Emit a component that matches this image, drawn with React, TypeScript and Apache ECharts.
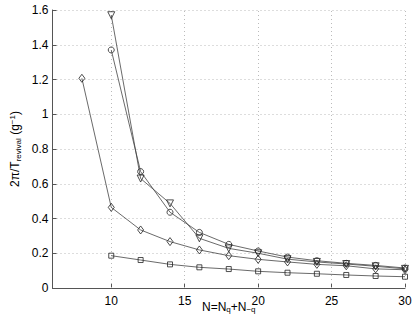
import React, { useEffect, useRef } from "react";
import * as echarts from "echarts";

const xDiamond = [8, 10, 12, 14, 16, 18, 20, 22, 24, 26, 28, 30];
const xOthers = [10, 12, 14, 16, 18, 20, 22, 24, 26, 28, 30];
const triangleVals = [1.57, 0.63, 0.487, 0.286, 0.228, 0.2, 0.166, 0.15, 0.138, 0.125, 0.11];
const circleVals = [1.37, 0.67, 0.436, 0.32, 0.251, 0.213, 0.178, 0.157, 0.142, 0.13, 0.115];
const diamondVals = [1.207, 0.464, 0.334, 0.267, 0.219, 0.186, 0.165, 0.15, 0.136, 0.128, 0.11, 0.105];
const squareVals = [0.186, 0.161, 0.136, 0.119, 0.109, 0.096, 0.088, 0.082, 0.075, 0.069, 0.065];
const xTicks = [10, 15, 20, 25, 30];

const FONT = "'Liberation Sans', Arial, Helvetica, sans-serif";

function pairs(xs: number[], ys: number[]) {
  return xs.map((x, i) => [x, ys[i]]);
}

export default function App() {
  const ref = useRef<HTMLDivElement>(null);
  useEffect(() => {
    if (!ref.current) return;
    const chart = echarts.init(ref.current, undefined, { renderer: "svg" });
    const lineStyle = { color: "#444", width: 0.8 };
    const itemStyle = { color: "rgba(255,255,255,0)", borderColor: "#222", borderWidth: 0.8 };
    const mk = (name: string, data: number[][], symbol: string, size: any, rotate = 0, extra: any = {}) => ({
      type: "line",
      name,
      data,
      symbol,
      symbolSize: size,
      symbolRotate: rotate,
      showAllSymbol: true,
      lineStyle,
      itemStyle,
      z: 3,
      ...extra,
    });
    const rich = {
      a: { fontSize: 12, fontFamily: FONT, color: "#000", lineHeight: 14, verticalAlign: "middle" },
      s: { fontSize: 8, fontFamily: FONT, color: "#000", lineHeight: 14, verticalAlign: "bottom" },
      p: { fontSize: 8, fontFamily: FONT, color: "#000", lineHeight: 14, verticalAlign: "top" },
    };
    chart.setOption({
      animation: false,
      grid: { left: 52.5, right: 10, top: 10, bottom: 33, outerBoundsMode: "none", containLabel: false },
      textStyle: { fontFamily: FONT },
      xAxis: {
        type: "value",
        min: 6,
        max: 30,
        axisLine: { show: true, lineStyle: { color: "#555", width: 1 } },
        axisTick: { show: true, inside: true, length: 4, customValues: xTicks, lineStyle: { color: "#555" } },
        axisLabel: { customValues: xTicks, color: "#000", fontSize: 12, fontFamily: FONT, margin: 7 },
        splitLine: { show: false },
        name: "{a|N=N}{s|q}{a|+N}{s|−q}",
        nameLocation: "middle",
        nameGap: 11.5,
        nameMoveOverlap: false,
        nameTextStyle: { rich },
      },
      yAxis: {
        type: "value",
        min: 0,
        max: 1.6,
        interval: 0.2,
        axisLine: { show: true, lineStyle: { color: "#555", width: 1 } },
        axisTick: { show: true, inside: true, length: 4, lineStyle: { color: "#555" } },
        axisLabel: { color: "#000", fontSize: 12, fontFamily: FONT, margin: 4 },
        splitLine: { show: true, lineStyle: { color: "#bbb", type: [1, 3], width: 1 } },
        name: "{a|2π/T}{s|revival}{a| (g}{p|−1}{a|)}",
        nameLocation: "middle",
        nameRotate: 90,
        nameGap: 30.5,
        nameMoveOverlap: false,
        nameTextStyle: { rich },
      },
      series: [
        mk("square", pairs(xOthers, squareVals), "rect", 5, 0, {
          markLine: {
            silent: true,
            symbol: ["none", "none"],
            label: { show: false },
            lineStyle: { color: "#bbb", type: [1, 3], width: 1 },
            data: xTicks.map((v) => ({ xAxis: v })),
            z: 1,
          },
        }),
        mk("diamond", pairs(xDiamond, diamondVals), "diamond", [6, 8]),
        mk("circle", pairs(xOthers, circleVals), "circle", 6),
        mk("triangle", pairs(xOthers, triangleVals), "triangle", 7, 180),
      ],
    });
    return () => chart.dispose();
  }, []);
  return (
    <div
      ref={ref}
      style={{ position: "fixed", left: 0, top: 0, width: 415, height: 321, background: "#fff" }}
    />
  );
}
